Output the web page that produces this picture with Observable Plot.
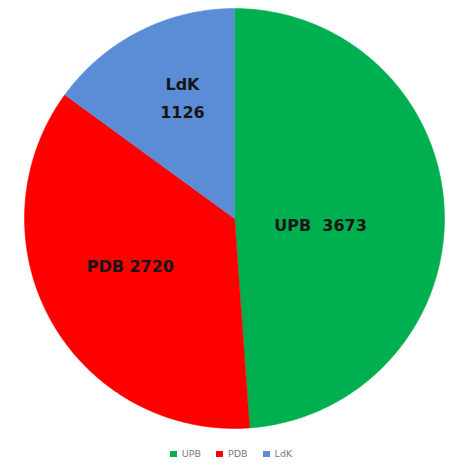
<!DOCTYPE html>
<html>
<head>
<meta charset="utf-8">
<script src="https://cdn.jsdelivr.net/npm/d3@7"></script>
<script src="https://cdn.jsdelivr.net/npm/@observablehq/plot@0.6"></script>
<style>
  html, body { margin: 0; padding: 0; background: #fff; }
  #chart { width: 450px; }
  .legend { display: flex; justify-content: center; align-items: center; gap: 15px;
            font: 9.5px "DejaVu Sans", sans-serif; color: #7a7a7a; height: 27px; padding-left: 12px; box-sizing: border-box; }
  .legend span.sw { display: inline-block; width: 7px; height: 6px; margin-right: 5px; }
</style>
</head>
<body>
<div id="chart"></div>
<script>
const categories = ["UPB", "PDB", "LdK"];
const values = [3673, 2720, 1126];
const labels = ["UPB  3673", "PDB 2720", "LdK\n1126"];
const colors = ["#00B050", "#FF0000", "#5B8DD6"];

// label placement (radius fraction along the slice bisector, pixel nudges)
const labelPlace = {
  UPB: {k: 0.41, dx: 0, dy: 7},
  PDB: {k: 0.54, dx: -5, dy: -10},
  LdK: {k: 0.62, dx: 7, dy: -7}
};

const pie = d3.pie().sort(null).value(d => d.value);
const rows = categories.map((c, i) => ({key: c, value: values[i], label: labels[i]}));
const arcs = pie(rows);

// polygon vertices for each slice (angle measured clockwise from 12 o'clock)
const poly = [];
for (const a of arcs) {
  const n = Math.max(8, Math.ceil((a.endAngle - a.startAngle) / 0.01));
  poly.push({key: a.data.key, x: 0, y: 0});
  for (let j = 0; j <= n; j++) {
    const t = a.startAngle + (a.endAngle - a.startAngle) * j / n;
    poly.push({key: a.data.key, x: Math.sin(t), y: Math.cos(t)});
  }
  poly.push({key: a.data.key, x: 0, y: 0});
}

const labelRows = arcs.map(a => {
  const m = (a.startAngle + a.endAngle) / 2;
  const p = labelPlace[a.data.key];
  return {key: a.data.key, label: a.data.label, x: p.k * Math.sin(m), y: p.k * Math.cos(m), dx: p.dx, dy: p.dy};
});

const plot = Plot.plot({
  width: 450,
  height: 440,
  marginLeft: 24,
  marginRight: 6,
  marginTop: 8,
  marginBottom: 12,
  x: {domain: [-1, 1], axis: null},
  y: {domain: [-1, 1], axis: null},
  color: {domain: categories, range: colors},
  marks: [
    Plot.line(poly, {x: "x", y: "y", z: "key", fill: "key", stroke: "key", strokeWidth: 0.5, curve: "linear"}),
    ...labelRows.map(r => Plot.text([r], {
      x: "x", y: "y", text: "label", dx: r.dx, dy: r.dy,
      fontSize: 16, fontWeight: "bold", fill: "#161616",
      fontFamily: "DejaVu Sans", lineHeight: 1.75
    }))
  ]
});
document.getElementById("chart").appendChild(plot);

const legend = document.createElement("div");
legend.className = "legend";
categories.forEach((c, i) => {
  const item = document.createElement("div");
  const sw = document.createElement("span");
  sw.className = "sw";
  sw.style.background = colors[i];
  item.appendChild(sw);
  item.appendChild(document.createTextNode(c));
  legend.appendChild(item);
});
document.getElementById("chart").appendChild(legend);
</script>
</body>
</html>
